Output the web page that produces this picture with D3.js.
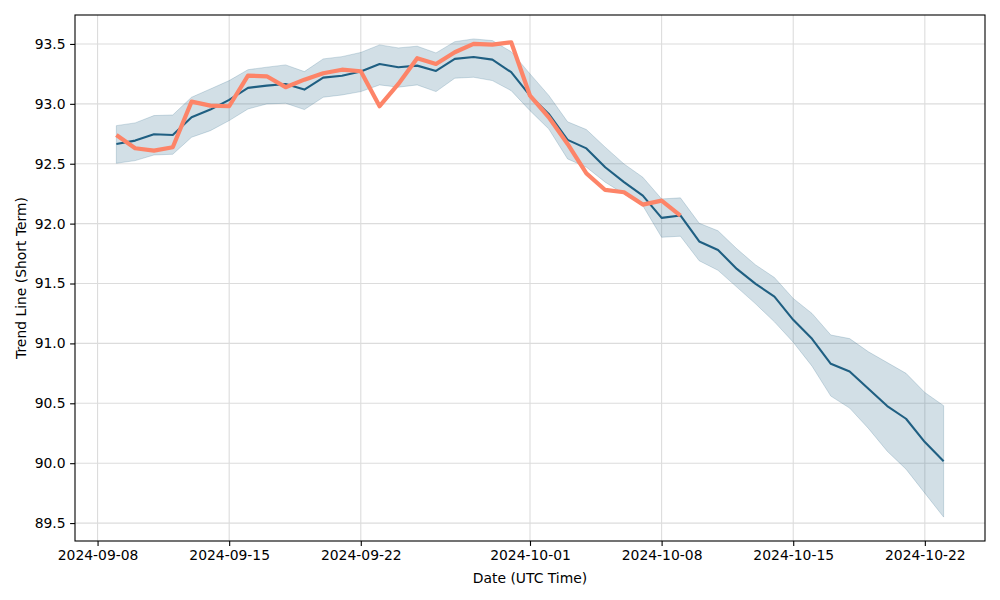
<!DOCTYPE html>
<html>
<head>
<meta charset="utf-8">
<script src="https://cdn.jsdelivr.net/npm/d3@7"></script>
<style>
    body { margin: 0; background: #fff; }
    #chart-trend { width: 1000px; height: 600px; }
    .grid line { stroke: #dcdcdc; stroke-width: 1.1; }
    .axis text { font-family: "DejaVu Sans", sans-serif; font-size: 13.9px; fill: #000; }
    .axis path, .axis line { stroke: #000; stroke-width: 1.1; }
    .label { font-family: "DejaVu Sans", sans-serif; font-size: 13.9px; fill: #000; }
</style>
</head>
<body>
<div id="chart-trend"></div>
<script>
var dates = [
    "2024-09-09", "2024-09-10", "2024-09-11", "2024-09-12", "2024-09-13", "2024-09-14", "2024-09-15",
    "2024-09-16", "2024-09-17", "2024-09-18", "2024-09-19", "2024-09-20", "2024-09-21", "2024-09-22",
    "2024-09-23", "2024-09-24", "2024-09-25", "2024-09-26", "2024-09-27", "2024-09-28", "2024-09-29",
    "2024-09-30", "2024-10-01", "2024-10-02", "2024-10-03", "2024-10-04", "2024-10-05", "2024-10-06",
    "2024-10-07", "2024-10-08", "2024-10-09", "2024-10-10", "2024-10-11", "2024-10-12", "2024-10-13",
    "2024-10-14", "2024-10-15", "2024-10-16", "2024-10-17", "2024-10-18", "2024-10-19", "2024-10-20",
    "2024-10-21", "2024-10-22", "2024-10-23"
];

// forecast trend (mean) and its band
var trend = [
    92.665, 92.693, 92.746, 92.740, 92.888, 92.952, 93.033, 93.133, 93.152, 93.166,
    93.119, 93.219, 93.235, 93.270, 93.333, 93.306, 93.319, 93.275, 93.375, 93.391,
    93.369, 93.264, 93.068, 92.916, 92.699, 92.628, 92.471, 92.346, 92.234, 92.048,
    92.068, 91.851, 91.780, 91.622, 91.497, 91.391, 91.197, 91.038, 90.830, 90.765,
    90.621, 90.477, 90.371, 90.176, 90.017
];
var upper = [
    92.818, 92.841, 92.902, 92.907, 93.055, 93.124, 93.194, 93.285, 93.306, 93.325,
    93.269, 93.375, 93.394, 93.429, 93.492, 93.467, 93.481, 93.425, 93.519, 93.542,
    93.528, 93.435, 93.250, 93.070, 92.850, 92.785, 92.638, 92.498, 92.387, 92.206,
    92.215, 92.003, 91.940, 91.790, 91.655, 91.550, 91.375, 91.250, 91.070, 91.040,
    90.930, 90.840, 90.750, 90.590, 90.480
];
var lower = [
    92.504, 92.526, 92.573, 92.579, 92.721, 92.776, 92.860, 92.957, 92.999, 93.005,
    92.952, 93.055, 93.074, 93.102, 93.158, 93.139, 93.158, 93.102, 93.214, 93.222,
    93.194, 93.110, 92.943, 92.790, 92.540, 92.471, 92.346, 92.248, 92.150, 91.886,
    91.895, 91.690, 91.610, 91.470, 91.330, 91.180, 91.010, 90.810, 90.560, 90.460,
    90.290, 90.100, 89.950, 89.750, 89.550
];

// observed values (only first 31 days)
var actual = [
    92.740, 92.629, 92.609, 92.638, 93.018, 92.985, 92.980, 93.235, 93.230, 93.139,
    93.202, 93.255, 93.285, 93.272, 92.980, 93.166, 93.381, 93.333, 93.431, 93.500,
    93.494, 93.514, 93.068, 92.888, 92.665, 92.419, 92.281, 92.262, 92.159, 92.192,
    92.067
];

var xTicks = ["2024-09-08", "2024-09-15", "2024-09-22", "2024-10-01", "2024-10-08", "2024-10-15", "2024-10-22"];
var yTicks = [89.5, 90.0, 90.5, 91.0, 91.5, 92.0, 92.5, 93.0, 93.5];

var parse = d3.utcParse("%Y-%m-%d");
var rows = dates.map(function (d, i) {
    return { date: parse(d), trend: trend[i], upper: upper[i], lower: lower[i], actual: actual[i] };
});

var svgWidth = 1000, svgHeight = 600;
var margin = { top: 15, right: 15, bottom: 59, left: 75 };
var w = svgWidth - margin.left - margin.right,
    h = svgHeight - margin.top - margin.bottom;

var svg = d3.select('#chart-trend').append('svg')
    .attr('width', svgWidth)
    .attr('height', svgHeight);

var g = svg.append('g')
    .attr('transform', 'translate(' + margin.left + ',' + margin.top + ')');

// matplotlib style 5% padding
var xExt = d3.extent(rows, function (d) { return d.date; });
var xPad = (xExt[1] - xExt[0]) * 0.05;
var x = d3.scaleUtc()
    .domain([new Date(+xExt[0] - xPad), new Date(+xExt[1] + xPad)])
    .range([0, w]);

var yMin = d3.min(lower), yMax = d3.max(upper);
var yPad = (yMax - yMin) * 0.05;
var y = d3.scaleLinear()
    .domain([yMin - yPad, yMax + yPad])
    .range([h, 0]);

var xTickDates = xTicks.map(parse);

// grid
g.append('g').attr('class', 'grid')
    .selectAll('line.v').data(xTickDates).enter().append('line')
    .attr('x1', function (d) { return x(d); })
    .attr('x2', function (d) { return x(d); })
    .attr('y1', 0).attr('y2', h);
g.append('g').attr('class', 'grid')
    .selectAll('line.h').data(yTicks).enter().append('line')
    .attr('x1', 0).attr('x2', w)
    .attr('y1', function (d) { return y(d); })
    .attr('y2', function (d) { return y(d); });

var blue = '#1f5f82';

var area = d3.area()
    .x(function (d) { return x(d.date); })
    .y0(function (d) { return y(d.lower); })
    .y1(function (d) { return y(d.upper); });

g.append('path')
    .datum(rows)
    .attr('d', area)
    .attr('fill', blue)
    .attr('fill-opacity', 0.2)
    .attr('stroke', blue)
    .attr('stroke-opacity', 0.2)
    .attr('stroke-width', 1);

var trendLine = d3.line()
    .x(function (d) { return x(d.date); })
    .y(function (d) { return y(d.trend); });

g.append('path')
    .datum(rows)
    .attr('d', trendLine)
    .attr('fill', 'none')
    .attr('stroke', blue)
    .attr('stroke-width', 2.1)
    .attr('stroke-linejoin', 'round');

var actualLine = d3.line()
    .defined(function (d) { return d.actual !== undefined; })
    .x(function (d) { return x(d.date); })
    .y(function (d) { return y(d.actual); });

g.append('path')
    .datum(rows.filter(function (d) { return d.actual !== undefined; }))
    .attr('d', actualLine)
    .attr('fill', 'none')
    .attr('stroke', '#fd8468')
    .attr('stroke-width', 4.2)
    .attr('stroke-linejoin', 'round');

// axes
g.append('g')
    .attr('class', 'axis')
    .attr('transform', 'translate(0,' + h + ')')
    .call(d3.axisBottom(x)
        .tickValues(xTickDates)
        .tickFormat(d3.utcFormat('%Y-%m-%d'))
        .tickSizeInner(4.9).tickSizeOuter(0).tickPadding(4.5))
    .call(function (a) { a.select('.domain').remove(); });

g.append('g')
    .attr('class', 'axis')
    .call(d3.axisLeft(y)
        .tickValues(yTicks)
        .tickFormat(d3.format('.1f'))
        .tickSizeInner(4.9).tickSizeOuter(0).tickPadding(4.5))
    .call(function (a) { a.select('.domain').remove(); });

// frame
g.append('rect')
    .attr('width', w).attr('height', h)
    .attr('fill', 'none')
    .attr('stroke', '#000')
    .attr('stroke-width', 1.1);

svg.append('text')
    .attr('class', 'label')
    .attr('x', margin.left + w / 2)
    .attr('y', 583)
    .attr('text-anchor', 'middle')
    .text('Date (UTC Time)');

svg.append('text')
    .attr('class', 'label')
    .attr('transform', 'translate(26,' + (margin.top + h / 2) + ') rotate(-90)')
    .attr('text-anchor', 'middle')
    .text('Trend Line (Short Term)');
</script>
</body>
</html>
